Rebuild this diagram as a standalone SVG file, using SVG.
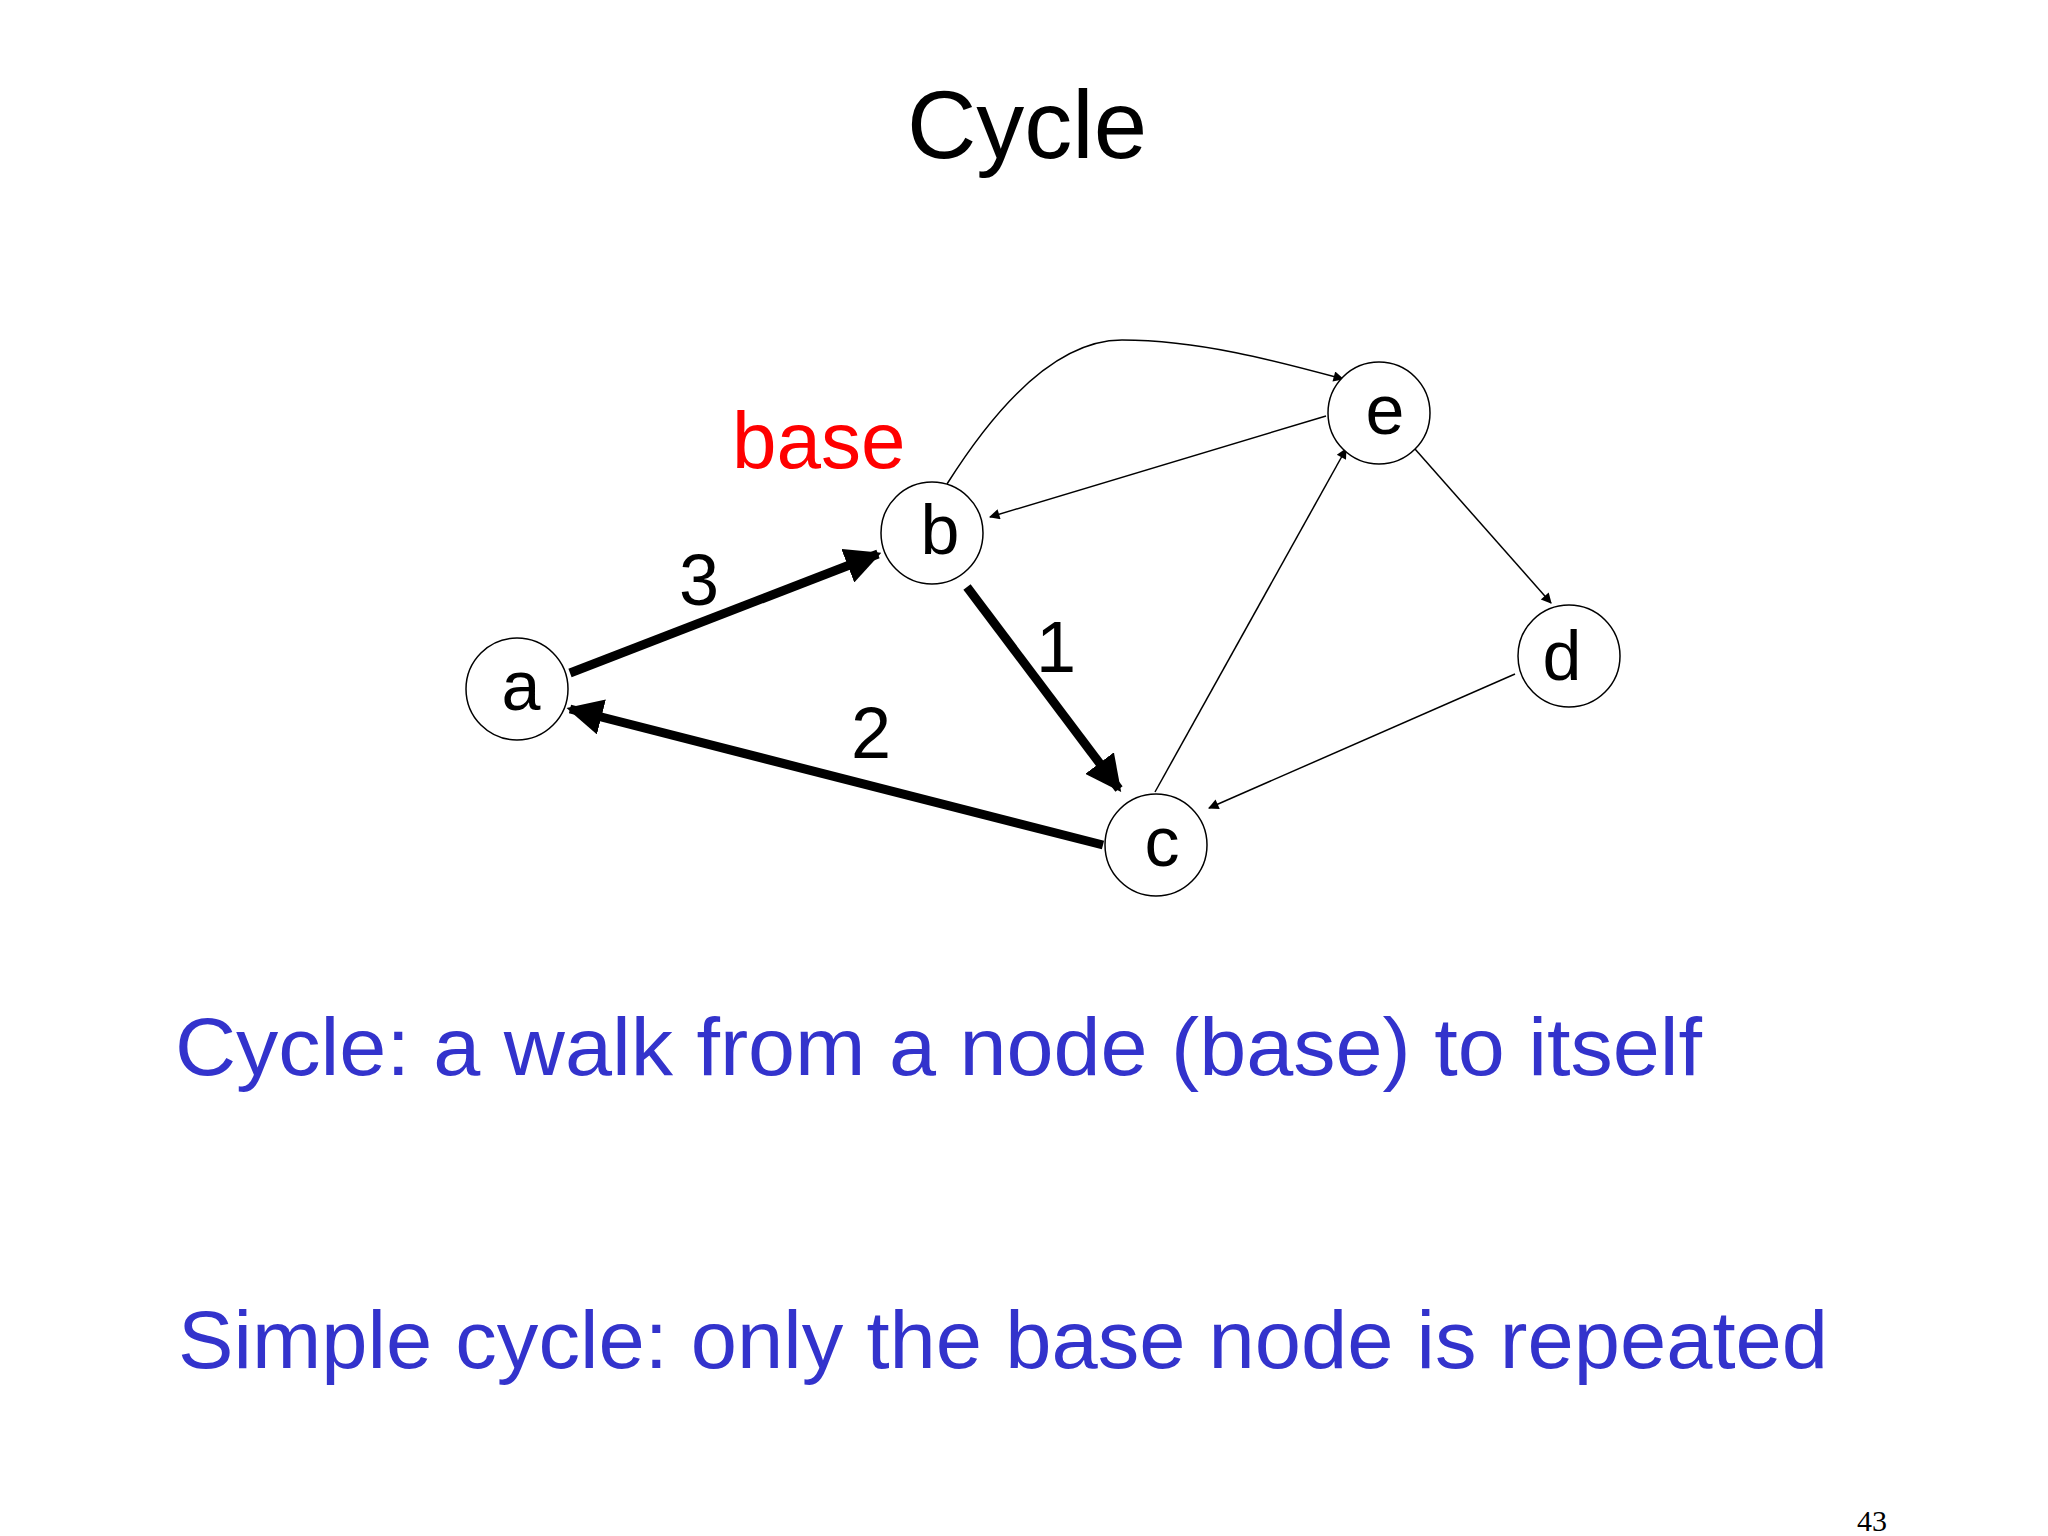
<svg xmlns="http://www.w3.org/2000/svg" width="2048" height="1536" viewBox="0 0 2048 1536">
<style>
.t{font-family:"Liberation Sans","DejaVu Sans",sans-serif}
.node circle{fill:#fff;stroke:#000;stroke-width:1.5}
.node text{font-family:"Liberation Sans",sans-serif;font-size:70px;text-anchor:middle}
.thick{stroke:#000;stroke-width:9;fill:none;marker-end:url(#big)}
.thin{stroke:#000;stroke-width:1.5;fill:none;marker-end:url(#small)}
.lbl{font-family:"Liberation Sans",sans-serif;font-size:72px;text-anchor:middle}
.blue{fill:#3333cc;font-family:"Liberation Sans",sans-serif;font-size:82px}
</style>
<defs>
<marker id="big" viewBox="0 0 10 10" refX="9" refY="5" markerWidth="4" markerHeight="4" orient="auto" markerUnits="strokeWidth"><path d="M0,0L10,5L0,10z"/></marker>
<marker id="small" viewBox="0 0 10 10" refX="9" refY="5" markerWidth="9" markerHeight="7" orient="auto" markerUnits="strokeWidth"><path d="M0,0L10,5L0,10z"/></marker>
</defs>
<rect width="2048" height="1536" fill="#fff"/>
<text class="t" x="1027" y="158" font-size="96" text-anchor="middle">Cycle</text>
<text class="t" x="732" y="468" font-size="80" fill="#ff0000">base</text>
<g id="connectors">
<line class="thick" x1="570" y1="673" x2="878" y2="554"/>
<line class="thick" x1="967" y1="587" x2="1119" y2="789"/>
<line class="thick" x1="1103" y1="845" x2="570" y2="709"/>
<path class="thin" d="M947,484 C1000,400 1060,340 1122,340 C1200,340 1280,362 1343,379"/>
<line class="thin" x1="1326" y1="416" x2="990" y2="517"/>
<line class="thin" x1="1155" y1="792" x2="1346" y2="449"/>
<line class="thin" x1="1415" y1="449" x2="1551" y2="603"/>
<line class="thin" x1="1515" y1="674" x2="1209" y2="808"/>
</g>
<text class="lbl" x="699" y="605">3</text>
<text class="lbl" x="1056" y="672">1</text>
<text class="lbl" x="871" y="758">2</text>
<g id="a" class="node"><circle cx="517" cy="689" r="51"/><text x="521" y="710">a</text></g>
<g id="b" class="node"><circle cx="932" cy="533" r="51"/><text x="940" y="554">b</text></g>
<g id="e" class="node"><circle cx="1379" cy="413" r="51"/><text x="1385" y="434">e</text></g>
<g id="d" class="node"><circle cx="1569" cy="656" r="51"/><text x="1562" y="680">d</text></g>
<g id="c" class="node"><circle cx="1156" cy="845" r="51"/><text x="1162" y="866">c</text></g>
<text class="blue" x="175" y="1075" textLength="1527" lengthAdjust="spacingAndGlyphs">Cycle: a walk from a node (base) to itself</text>
<text class="blue" x="178" y="1368" textLength="1650" lengthAdjust="spacingAndGlyphs">Simple cycle: only the base node is repeated</text>
<text x="1872" y="1531" font-family="Liberation Serif,serif" font-size="30" text-anchor="middle">43</text>
</svg>
